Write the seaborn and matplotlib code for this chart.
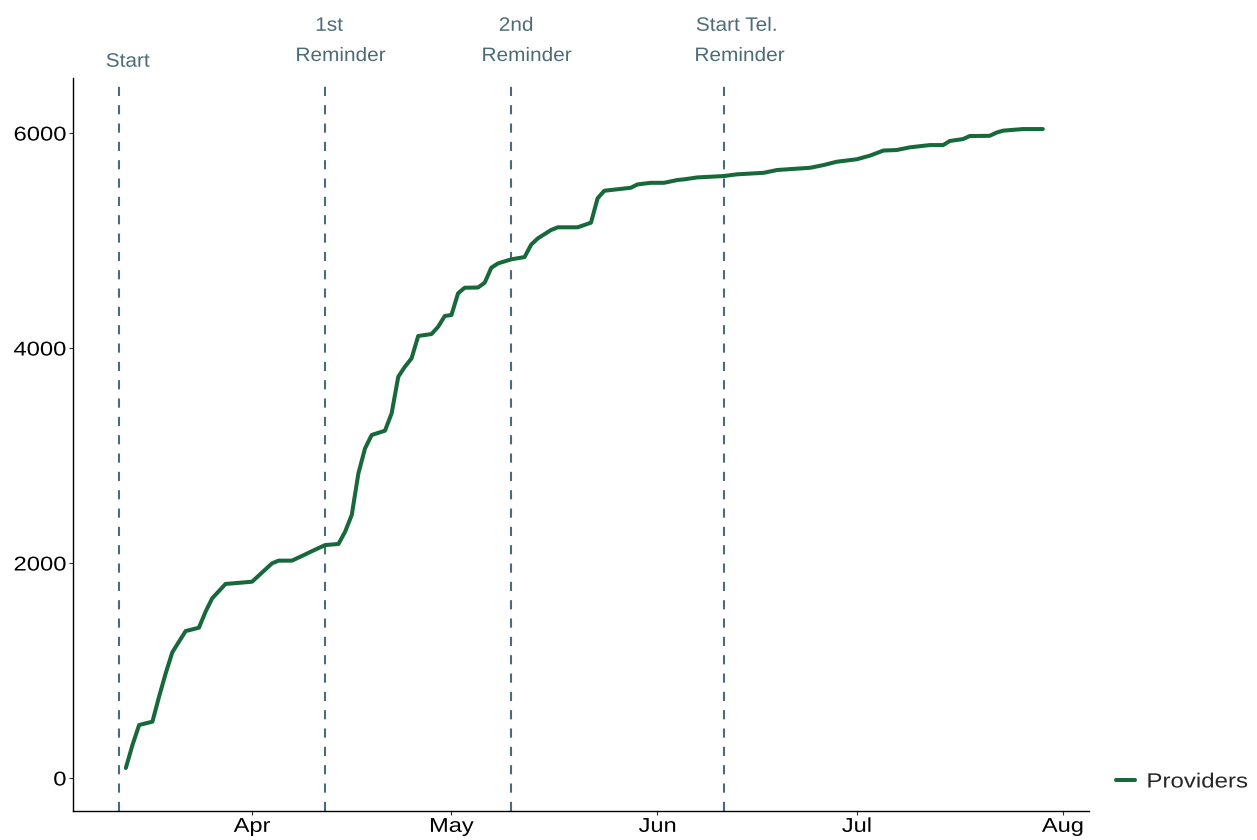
import matplotlib
matplotlib.use("Agg")
import matplotlib.pyplot as plt
import matplotlib.dates as mdates
import matplotlib.transforms as mtransforms
from matplotlib.patheffects import AbstractPathEffect
import pandas as pd
import seaborn as sns

# Cumulative number of responding providers
dates = [
    "2020-03-13", "2020-03-14", "2020-03-15", "2020-03-17", "2020-03-18", "2020-03-19",
    "2020-03-20", "2020-03-22", "2020-03-24", "2020-03-25", "2020-03-26", "2020-03-28",
    "2020-04-01", "2020-04-04", "2020-04-05", "2020-04-07", "2020-04-09", "2020-04-10",
    "2020-04-12", "2020-04-14", "2020-04-15", "2020-04-16", "2020-04-17", "2020-04-18",
    "2020-04-19", "2020-04-21", "2020-04-22", "2020-04-23", "2020-04-24", "2020-04-25",
    "2020-04-26", "2020-04-28", "2020-04-29", "2020-04-30", "2020-05-01", "2020-05-02",
    "2020-05-03", "2020-05-05", "2020-05-06", "2020-05-07", "2020-05-08", "2020-05-10",
    "2020-05-12", "2020-05-13", "2020-05-14", "2020-05-16", "2020-05-17", "2020-05-20",
    "2020-05-22", "2020-05-23", "2020-05-24", "2020-05-26", "2020-05-28", "2020-05-29",
    "2020-05-31", "2020-06-02", "2020-06-04", "2020-06-05", "2020-06-07", "2020-06-11",
    "2020-06-13", "2020-06-17", "2020-06-19", "2020-06-24", "2020-06-26", "2020-06-28",
    "2020-07-01", "2020-07-03", "2020-07-05", "2020-07-07", "2020-07-09", "2020-07-12",
    "2020-07-14", "2020-07-15", "2020-07-17", "2020-07-18", "2020-07-21", "2020-07-22",
    "2020-07-23", "2020-07-26", "2020-07-29",
]
providers = [
    93, 307, 493, 524, 756, 974,
    1170, 1367, 1398, 1547, 1672, 1805,
    1826, 1997, 2022, 2022, 2080, 2110,
    2167, 2177, 2291, 2447, 2834, 3067,
    3191, 3231, 3392, 3733, 3826, 3904,
    4112, 4130, 4198, 4298, 4307, 4509,
    4561, 4563, 4607, 4747, 4787, 4825,
    4846, 4962, 5020, 5098, 5123, 5123,
    5166, 5393, 5463, 5477, 5491, 5522,
    5537, 5537, 5563, 5569, 5587, 5600,
    5616, 5630, 5656, 5677, 5702, 5733,
    5756, 5790, 5837, 5842, 5867, 5888,
    5888, 5926, 5944, 5972, 5974, 6003,
    6022, 6037, 6037,
]

# Events shown as dashed vertical lines (label lines top -> bottom)
event_dates = ["2020-03-12", "2020-04-12", "2020-05-10", "2020-06-11"]
event_labels = [["Start"], ["1st", "Reminder"], ["2nd", "Reminder"], ["Start Tel.", "Reminder"]]

line_color = "#17683b"
event_color = "#4b6b77"


class HStretch(AbstractPathEffect):
    """Widen glyphs horizontally around an anchor (0 left, .5 centre, 1 right)."""

    def __init__(self, sx, anchor=0.5):
        super().__init__()
        self.sx = sx
        self.anchor = anchor

    def draw_path(self, renderer, gc, tpath, affine, rgbFace=None):
        v = tpath.vertices
        if len(v):
            lo, hi = v[:, 0].min(), v[:, 0].max()
            p = lo + (hi - lo) * self.anchor
        else:
            p = 0
        pre = mtransforms.Affine2D().scale(self.sx, 1).translate(-(self.sx - 1) * p, 0)
        renderer.draw_path(gc, tpath, pre + affine, rgbFace)


df = pd.DataFrame({"date": pd.to_datetime(dates), "value": providers})
ev = pd.to_datetime(event_dates)

sns.set_style("white")
plt.rcParams["font.family"] = ["Liberation Sans", "DejaVu Sans"]

fig = plt.figure(figsize=(12.57, 8.4), dpi=100)
ax = fig.add_axes([73 / 1257, 1 - 811 / 840, (1089 - 73) / 1257, (811 - 78) / 840])

sns.lineplot(data=df, x="date", y="value", color=line_color, linewidth=2.9,
             label="Providers", ax=ax)

for d in ev:
    ax.axvline(d, color=event_color, linewidth=1.5, linestyle=(0, (4.4, 4.4)), zorder=1)

# labels above the panel: (x shift px, baseline px from top) per line
shifts = [[(8.7, 66.7)], [(4, 30.8), (15.7, 61)], [(5, 30.8), (15.7, 61)], [(13, 30.8), (16, 61)]]
trans = mtransforms.blended_transform_factory(ax.transData, fig.transFigure)
for d, lines, offs in zip(ev, event_labels, shifts):
    for txt, (dx, yb) in zip(lines, offs):
        t = ax.text(d, 1 - yb / 840, txt,
                    transform=trans + mtransforms.ScaledTranslation(dx / 100, 0, fig.dpi_scale_trans),
                    ha="center", va="baseline", fontsize=14, color=event_color, clip_on=False)
        t.set_path_effects([HStretch(1.07, 0.5)])

x0 = ev.min() - pd.Timedelta(days=6.95)
x1 = df["date"].max() + pd.Timedelta(days=6.95)
ax.set_xlim(x0, x1)
ax.set_ylim(-307, 6512)
ax.set_yticks([0, 2000, 4000, 6000])
ax.xaxis.set_major_locator(mdates.MonthLocator())
ax.xaxis.set_major_formatter(mdates.DateFormatter("%b"))
ax.set_xlabel("")
ax.set_ylabel("")

sns.despine(ax=ax)
for s in ["left", "bottom"]:
    ax.spines[s].set_color("black")
    ax.spines[s].set_linewidth(1.0)
ax.tick_params(axis="both", which="major", bottom=True, left=True, length=3, width=0.8,
               color="#333333", labelsize=14.4, labelcolor="black")
ax.tick_params(axis="x", pad=1.2)
ax.tick_params(axis="y", pad=1.8)

ax.get_legend().remove()
handles, labels = ax.get_legend_handles_labels()
leg = fig.legend(handles, labels, loc="center left", bbox_to_anchor=(1116 / 1257, 1 - 782 / 840),
                 frameon=False, fontsize=14.8, handlelength=0.93, handletextpad=0.55,
                 borderpad=0, borderaxespad=0)
for t in leg.get_texts():
    t.set_path_effects([HStretch(1.17, 0.0)])

fig.canvas.draw()
for t in ax.get_xticklabels():
    t.set_path_effects([HStretch(1.18, 0.5)])
for t in ax.get_yticklabels():
    t.set_path_effects([HStretch(1.19, 1.0)])

fig.savefig("out.png", dpi=100)
